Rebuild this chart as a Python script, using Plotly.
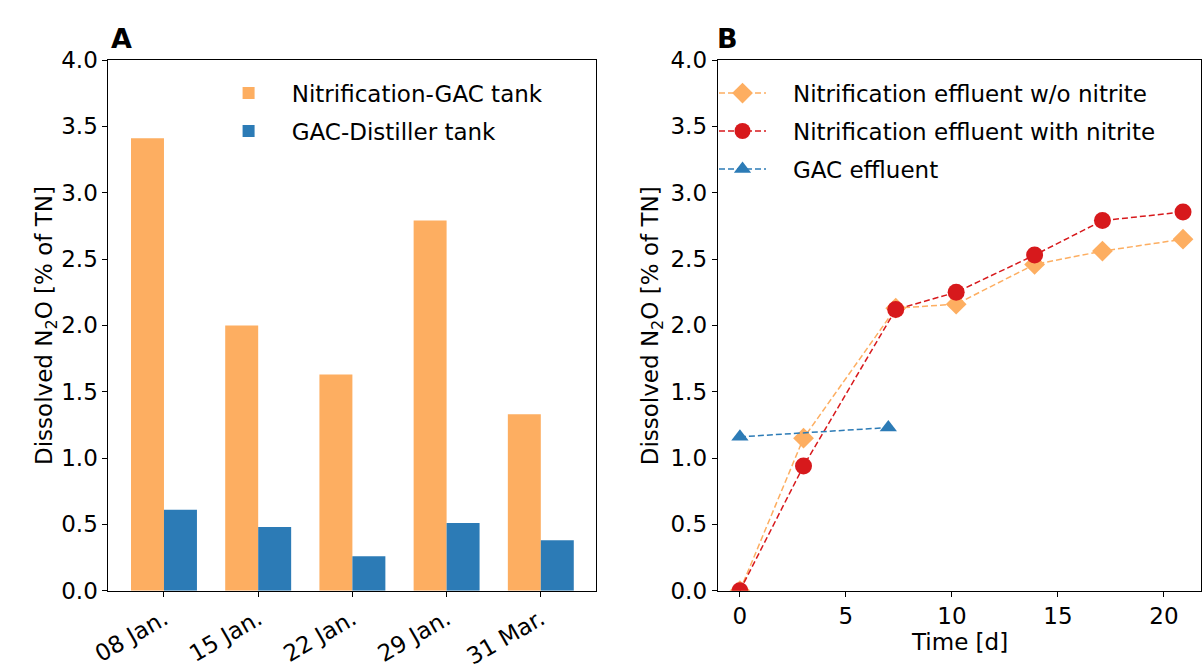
import plotly.graph_objects as go

# ---- Data ----
dates = ["08 Jan.", "15 Jan.", "22 Jan.", "29 Jan.", "31 Mar."]
nit_gac_tank = [3.41, 2.00, 1.63, 2.79, 1.33]
gac_dist_tank = [0.61, 0.48, 0.26, 0.51, 0.38]

t_wo = [0, 3.0, 7.35, 10.2, 13.9, 17.1, 20.9]
n2o_wo = [0.0, 1.15, 2.13, 2.16, 2.46, 2.56, 2.65]
t_with = [0, 3.0, 7.35, 10.2, 13.9, 17.1, 20.9]
n2o_with = [0.0, 0.94, 2.12, 2.25, 2.53, 2.79, 2.855]
t_gac = [0, 7.0]
n2o_gac = [1.16, 1.23]
y_ticks = [0.0, 0.5, 1.0, 1.5, 2.0, 2.5, 3.0, 3.5, 4.0]
x2_ticks = [0, 5, 10, 15, 20]

ORANGE = "#FDAE61"
BLUE = "#2C7BB6"
RED = "#D7191C"
FONT = "DejaVu Sans"
FS = 23
W, H = 1203, 671
PAD = "\u00a0\u00a0\u00a0"  # gap between legend symbol and label
PAD_A = "\u00a0\u00a0"

def px_x(p):
    return p / W

def px_y(p):
    return 1 - p / H

fig = go.Figure()

# Panel A bars
fig.add_trace(go.Bar(x=dates, y=nit_gac_tank, name=PAD_A + "Nitrification-GAC tank",
                     marker=dict(color=ORANGE, line=dict(width=0)),
                     xaxis="x", yaxis="y", legend="legend", legendgroup="a1"))
fig.add_trace(go.Bar(x=dates, y=gac_dist_tank, name=PAD_A + "GAC-Distiller tank",
                     marker=dict(color=BLUE, line=dict(width=0)),
                     xaxis="x", yaxis="y", legend="legend", legendgroup="a2"))

# Panel B lines
fig.add_trace(go.Scatter(x=t_wo, y=n2o_wo, name=PAD + "Nitrification effluent w/o nitrite",
                         mode="lines+markers",
                         line=dict(color=ORANGE, width=1.5, dash="6px,3px"),
                         marker=dict(symbol="diamond", size=16, color=ORANGE, line=dict(width=0)),
                         xaxis="x2", yaxis="y2", legend="legend2", legendgroup="b1"))
fig.add_trace(go.Scatter(x=t_with, y=n2o_with, name=PAD + "Nitrification effluent with nitrite",
                         mode="lines+markers",
                         line=dict(color=RED, width=1.5, dash="6px,3px"),
                         marker=dict(symbol="circle", size=17, color=RED, line=dict(width=0)),
                         xaxis="x2", yaxis="y2", legend="legend2", legendgroup="b2"))
fig.add_trace(go.Scatter(x=t_gac, y=n2o_gac, name=PAD + "GAC effluent",
                         mode="lines+markers",
                         line=dict(color=BLUE, width=1.5, dash="6px,3px"),
                         marker=dict(symbol="triangle-up", size=15, color=BLUE, line=dict(width=0)),
                         xaxis="x2", yaxis="y2", legend="legend2", legendgroup="b3"))

ydom = [px_y(601), px_y(49)]
axis_common = dict(showline=True, linecolor="black", linewidth=1, mirror=True,
                   ticks="outside", ticklen=5, tickwidth=1, tickcolor="black",
                   showgrid=False, zeroline=False,
                   tickfont=dict(family=FONT, size=FS, color="black"))

legend_common = dict(xanchor="left", yanchor="top",
                     bgcolor="rgba(255,255,255,0)", borderwidth=0,
                     font=dict(family=FONT, size=FS, color="black"),
                     itemwidth=47, tracegroupgap=5)

fig.update_layout(
    width=W, height=H,
    margin=dict(l=0, r=0, t=0, b=0),
    paper_bgcolor="white", plot_bgcolor="white",
    font=dict(family=FONT, size=FS, color="black"),
    barmode="group", bargap=0.3, bargroupgap=0,
    xaxis=dict(domain=[px_x(92.7), px_x(587.7)], anchor="y", type="category",
               range=[-0.59, 4.59], tickangle=-30, **axis_common),
    yaxis=dict(domain=ydom, anchor="x", range=[0, 4], tickvals=y_ticks,
               tickformat=".1f", **axis_common),
    xaxis2=dict(domain=[px_x(710.7), px_x(1201)], anchor="y2",
                range=[-1.05, 21.75], tickvals=x2_ticks, **axis_common),
    yaxis2=dict(domain=ydom, anchor="x2", range=[0, 4], tickvals=y_ticks,
                tickformat=".1f", **axis_common),
    legend=dict(x=px_x(206), y=px_y(61), **legend_common),
    legend2=dict(x=px_x(707), y=px_y(61), **legend_common),
    showlegend=True,
)

ann_font = dict(family=FONT, size=FS, color="black")
ytitle = "Dissolved N<sub>2</sub>O [% of TN]"
fig.add_annotation(text=ytitle, xref="paper", yref="paper", x=px_x(30), y=px_y(325),
                   xanchor="center", yanchor="middle", textangle=-90, showarrow=False, font=ann_font)
fig.add_annotation(text=ytitle, xref="paper", yref="paper", x=px_x(645), y=px_y(325),
                   xanchor="center", yanchor="middle", textangle=-90, showarrow=False, font=ann_font)
fig.add_annotation(text="Time [d]", xref="paper", yref="paper", x=px_x(956), y=px_y(654),
                   xanchor="center", yanchor="middle", showarrow=False, font=ann_font)
fig.add_annotation(text="<b>A</b>", xref="paper", yref="paper", x=px_x(106), y=px_y(27),
                   xanchor="center", yanchor="middle", showarrow=False,
                   font=dict(family=FONT, size=27, color="black"))
fig.add_annotation(text="<b>B</b>", xref="paper", yref="paper", x=px_x(721), y=px_y(27),
                   xanchor="center", yanchor="middle", showarrow=False,
                   font=dict(family=FONT, size=27, color="black"))

fig.write_html("out.html")
